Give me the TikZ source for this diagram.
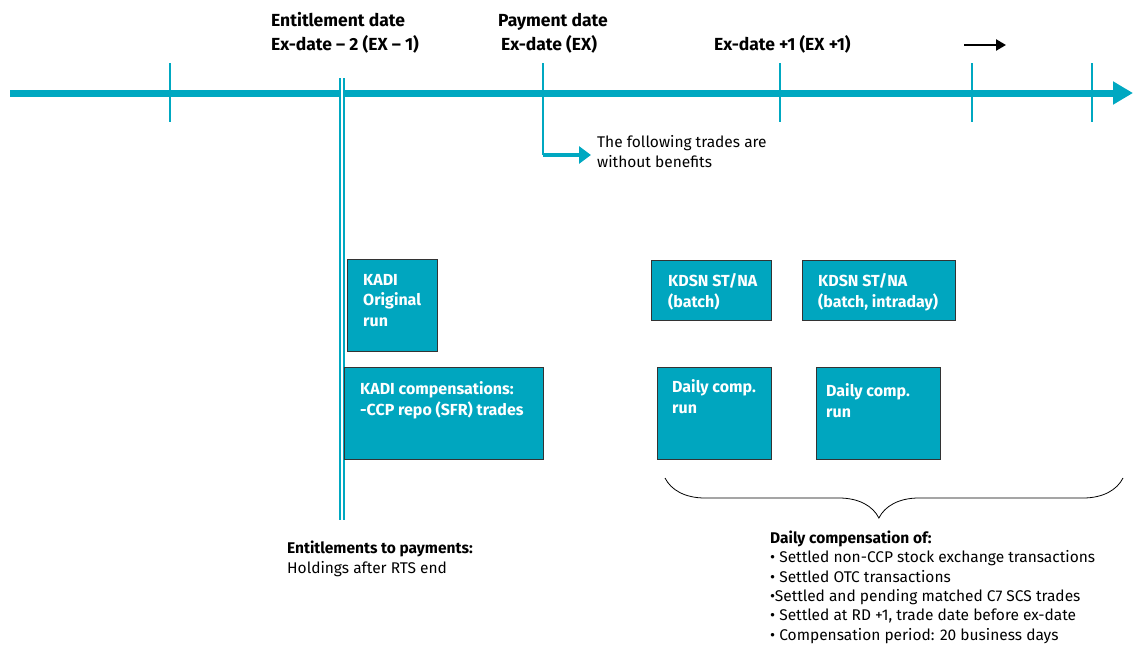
\documentclass[tikz,border=0pt]{standalone}
\usepackage{fontspec}
\setmainfont{Fira Sans}
\usetikzlibrary{arrows.meta,decorations.pathreplacing}
\definecolor{kdteal}{HTML}{00A8C1}
\definecolor{kdbox}{HTML}{00A6BF}
\tikzset{
  tickline/.style={kdteal, line width=2pt},
  runbox/.style={draw=black!80, fill=kdbox, line width=0.9pt, inner sep=0pt, anchor=north west},
  boxtext/.style={text=white, font=\fontsize{16}{20.5}\selectfont\bfseries, align=left, anchor=base west, inner sep=0pt},
  datelabel/.style={font=\fontsize{17.5}{24}\selectfont\bfseries, anchor=base west, inner sep=0pt},
  note/.style={font=\fontsize{15.5}{19.3}\selectfont, align=left, anchor=base west, inner sep=0pt}
}
\begin{document}
\begin{tikzpicture}[x=1pt, y=-1pt]
  \useasboundingbox (0,0) rectangle (1133,645);
  % time axis
  \coordinate (axisstart) at (10,93);
  \coordinate (axisend) at (1133,93);
  \draw[kdteal, line width=7pt, -{Triangle[length=20pt,width=22pt]}] (axisstart) -- (axisend);
  % ticks
  \foreach \x in {170,780,972,1092}
    \draw[tickline] (\x,63) -- (\x,122);
  % entitlement date
  \coordinate (enttop) at (342,78);
  \coordinate (entbot) at (342,520);
  \draw[kdteal, line width=2.3pt, double=white, double distance=1.6pt] (enttop) -- (entbot);
  % payment date
  \coordinate (paytop) at (543,63);
  \coordinate (paybend) at (543,155);
  \coordinate (payend) at (591,155);
  \draw[tickline] (paytop) -- (paybend);
  \draw[kdteal, line width=4pt, -{Triangle[length=12pt,width=17pt]}] (paybend) -- (payend);
  % dates
  \node[datelabel] (entdate) at (271,26) {Entitlement date};
  \node[datelabel] (exminus) at (271,50) {Ex-date – 2 (EX – 1)};
  \node[datelabel] (paydate) at (498,26) {Payment date};
  \node[datelabel] (exdate) at (501,50) {Ex-date (EX)};
  \node[datelabel] (explus) at (714,50) {Ex-date +1 (EX +1)};
  \coordinate (laterstart) at (964,45);
  \coordinate (laterend) at (1006,45);
  \draw[black, line width=2.3pt, -{Triangle[length=10pt,width=11pt]}] (laterstart) -- (laterend);
  \node[note] (nobenefit) at (597,167) {The following trades are\\without benefits};
  % runs
  \node[runbox, minimum width=90pt, minimum height=92pt] (kadi) at (347,259) {};
  \node[boxtext] (kaditext) at (363,326) {KADI\\Original\\run};
  \node[runbox, minimum width=199pt, minimum height=92pt] (kadicomp) at (344,367) {};
  \node[boxtext] (kadicomptext) at (360,415) {KADI compensations:\\-CCP repo (SFR) trades};
  \node[runbox, minimum width=120pt, minimum height=60pt] (kdsnbatch) at (651,260) {};
  \node[boxtext] (kdsnbatchtext) at (668,307) {KDSN ST/NA\\(batch)};
  \node[runbox, minimum width=153pt, minimum height=60pt] (kdsnintra) at (802,260) {};
  \node[boxtext] (kdsnintratext) at (818,307) {KDSN ST/NA\\(batch, intraday)};
  \node[runbox, minimum width=114pt, minimum height=92pt] (dailyone) at (657,367) {};
  \node[boxtext] (dailyonetext) at (672,413) {Daily comp.\\run};
  \node[runbox, minimum width=124pt, minimum height=92pt] (dailytwo) at (816,367) {};
  \node[boxtext] (dailytwotext) at (826,417) {Daily comp.\\run};
  % compensation brace
  \coordinate (braceleft) at (665,478);
  \coordinate (braceright) at (1123,478);
  \draw[black, line width=0.8pt, decorate, decoration={brace, amplitude=40pt, aspect=0.533}] (braceright) -- (braceleft);
  % notes
  \node[note] (entnote) at (287,573) {\textbf{Entitlements to payments:}\\Holdings after RTS end};
  \node[note] (compnote) at (770,640) {\textbf{Daily compensation of:}\\• Settled non-CCP stock exchange transactions\\• Settled OTC transactions\\•Settled and pending matched C7 SCS trades\\• Settled at RD +1, trade date before ex-date\\• Compensation period: 20 business days};
\end{tikzpicture}
\end{document}
